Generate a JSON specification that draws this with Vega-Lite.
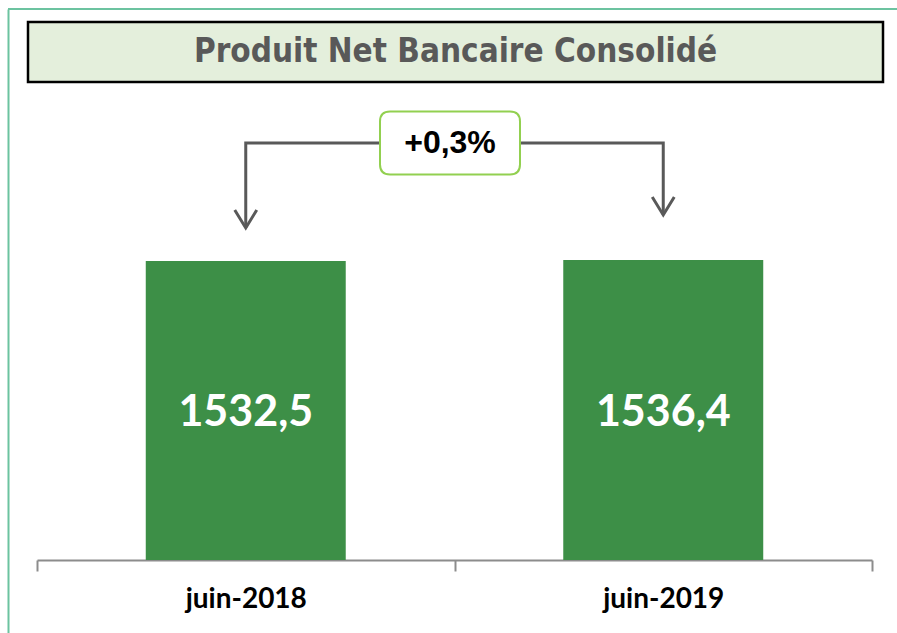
{
  "$schema": "https://vega.github.io/schema/vega-lite/v6.json",
  "width": 889,
  "height": 624,
  "autosize": {"type": "none"},
  "padding": {"left": 8, "top": 9, "right": 0, "bottom": 0},
  "background": "white",
  "config": {
    "view": {"stroke": null},
    "axisY": {"domainColor": "#6cc3a0", "domainWidth": 2, "ticks": false, "labels": false, "grid": false},
    "locale": {"number": {"decimal": ",", "thousands": " ", "grouping": [3], "currency": ["", " €"]}}
  },
  "resolve": {"scale": {"x": "independent"}, "axis": {"x": "independent"}},
  "layer": [
    {
      "data": {"values": [{"cadre": "haut"}]},
      "mark": {"type": "rule", "color": "#6cc3a0", "strokeWidth": 2},
      "encoding": {
        "y": {"datum": 2823, "type": "quantitative", "title": null, "scale": {"domain": [-374, 2823], "nice": false, "zero": false}}
      }
    },
    {
      "data": {"values": [{"titre": "Produit Net Bancaire Consolidé"}]},
      "encoding": {
        "x": {"datum": 0, "type": "quantitative", "scale": {"domain": [0, 1], "range": [20, 875], "nice": false, "zero": false}, "axis": null}
      },
      "layer": [
        {
          "mark": {"type": "rect", "fill": "#e4efdc", "stroke": "#000000", "strokeWidth": 2.5},
          "encoding": {
            "x": {"datum": 0, "type": "quantitative", "scale": {"domain": [0, 1], "range": [20, 875], "nice": false, "zero": false}, "axis": null},
            "x2": {"datum": 1},
            "y": {"datum": 2756, "type": "quantitative", "title": null},
            "y2": {"datum": 2449}
          }
        },
        {
          "mark": {"type": "text", "font": "DejaVu Sans Condensed", "fontWeight": "bold", "fontSize": 33, "color": "#595959", "baseline": "middle", "align": "center"},
          "encoding": {
            "x": {"datum": 0.5, "type": "quantitative", "axis": null},
            "y": {"datum": 2602, "type": "quantitative", "title": null},
            "text": {"field": "titre"}
          }
        }
      ]
    },
    {
      "layer": [
        {
          "data": {"values": [{"periode": "juin-2018", "pnb": 1532.5}, {"periode": "juin-2019", "pnb": 1536.4}]},
          "layer": [
            {
              "mark": {"type": "bar", "color": "#3d8f47", "width": {"band": 0.479}},
              "encoding": {
                "x": {"field": "periode", "type": "nominal", "sort": null,
                  "scale": {"range": [29, 864], "paddingInner": 0, "paddingOuter": 0},
                  "axis": {"title": null, "orient": "bottom", "offset": -73, "labelAngle": 0, "domainColor": "#8c8c8c", "domainWidth": 2, "tickColor": "#8c8c8c", "tickWidth": 2, "tickSize": 11, "tickBand": "extent", "labelFont": "Lato", "labelFontWeight": "bold", "labelFontSize": 28, "labelColor": "#000000", "labelPadding": 14}},
                "y": {"field": "pnb", "type": "quantitative", "title": null}
              }
            },
            {
              "mark": {"type": "text", "font": "Lato", "fontWeight": "bold", "fontSize": 43, "color": "#ffffff", "baseline": "middle", "align": "center"},
              "encoding": {
                "x": {"field": "periode", "type": "nominal", "sort": null},
                "y": {"datum": 753, "type": "quantitative", "title": null},
                "text": {"field": "pnb", "type": "quantitative", "format": ".1f"}
              }
            }
          ]
        },
        {
          "data": {"values": [
            {"periode": "juin-2018", "niveau": 1701, "ordre": 1},
            {"periode": "juin-2018", "niveau": 2136, "ordre": 2},
            {"periode": "juin-2019", "niveau": 2136, "ordre": 3},
            {"periode": "juin-2019", "niveau": 1768, "ordre": 4}
          ]},
          "mark": {"type": "line", "color": "#595959", "strokeWidth": 3},
          "encoding": {
            "x": {"field": "periode", "type": "nominal", "sort": null},
            "y": {"field": "niveau", "type": "quantitative", "title": null},
            "order": {"field": "ordre"}
          }
        },
        {
          "data": {"values": [
            {"periode": "juin-2018", "pointe": 1701},
            {"periode": "juin-2019", "pointe": 1768}
          ]},
          "mark": {"type": "point", "shape": "M-0.55,-0.9L0,0L0.55,-0.9", "size": 1600, "filled": false, "stroke": "#595959", "strokeWidth": 3, "opacity": 1},
          "encoding": {
            "x": {"field": "periode", "type": "nominal", "sort": null},
            "y": {"field": "pointe", "type": "quantitative", "title": null}
          }
        }
      ]
    },
    {
      "data": {"values": [{"variation": "+0,3%"}]},
      "layer": [
        {
          "mark": {"type": "point", "xOffset": -2.5, "shape": "M-0.857,-0.45L0.857,-0.45Q1,-0.45 1,-0.307L1,0.307Q1,0.45 0.857,0.45L-0.857,0.45Q-1,0.45 -1,0.307L-1,-0.307Q-1,-0.45 -0.857,-0.45Z", "size": 19600, "filled": true, "fill": "#ffffff", "stroke": "#92d050", "strokeWidth": 2, "opacity": 1},
          "encoding": {"y": {"datum": 2136, "type": "quantitative", "title": null}}
        },
        {
          "mark": {"type": "text", "xOffset": -2.5, "font": "Liberation Sans", "fontWeight": "bold", "fontSize": 32, "color": "#000000", "baseline": "middle", "align": "center"},
          "encoding": {"y": {"datum": 2136, "type": "quantitative", "title": null}, "text": {"field": "variation"}}
        }
      ]
    }
  ]
}
